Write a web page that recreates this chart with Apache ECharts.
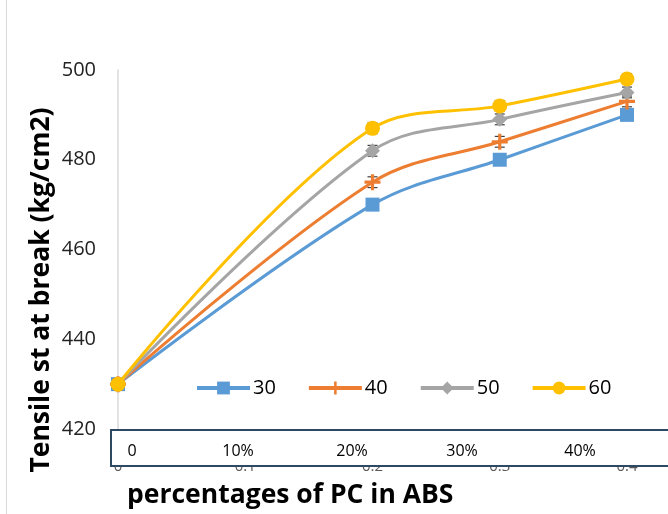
<!DOCTYPE html>
<html><head><meta charset="utf-8">
<script src="https://cdn.jsdelivr.net/npm/echarts@6/dist/echarts.min.js"></script>
<style>html,body{margin:0;padding:0;background:#fff}#c{width:668px;height:514px}</style>
</head><body><div id="c"></div>
<script>
const xValues = [0, 0.2, 0.3, 0.4];
const seriesNames = ['30', '40', '50', '60'];
const s30 = [430, 470, 480, 490];
const s40 = [430, 475, 484, 493];
const s50 = [430, 482, 489, 495];
const s60 = [430, 487, 492, 498];
const errors = [1.2, 1.2, 1.2, 1.2];
const boxLabels = ['0', '10%', '20%', '30%', '40%'];
const yTitle = 'Tensile st at break (kg/cm2)';
const xTitle = 'percentages of PC in ABS';

const colors = ['#5b9bd5', '#ed7d31', '#a5a5a5', '#ffc000'];
const symbols = ['rect', 'path://M4,0 L6,0 L6,4 L10,4 L10,6 L6,6 L6,10 L4,10 L4,6 L0,6 L0,4 L4,4 Z', 'diamond', 'circle'];
const symSizes = [14, 16, 15, 15];
const allData = [s30, s40, s50, s60];
const font = '"Open Sans", sans-serif';

const chart = echarts.init(document.getElementById('c'));
const series = [];
allData.forEach((d, i) => {
  series.push({
    name: seriesNames[i], type: 'line', smooth: 0.35,
    data: d.map((v, j) => [xValues[j], v]),
    symbol: symbols[i], symbolSize: symSizes[i], z: 3 + i,
    lineStyle: { color: colors[i], width: 3 },
    itemStyle: { color: colors[i] }
  });
  series.push({
    type: 'custom', z: 2 + i,
    data: d.map((v, j) => [xValues[j], v, errors[j]]),
    renderItem: function (params, api) {
      const x = api.value(0), v = api.value(1), e = api.value(2);
      const top = api.coord([x, v + e]);
      const bot = api.coord([x, v - e]);
      const hw = 5;
      const st = { stroke: '#404040', lineWidth: 1.2 };
      return { type: 'group', children: [
        { type: 'line', shape: { x1: top[0], y1: top[1], x2: bot[0], y2: bot[1] }, style: st },
        { type: 'line', shape: { x1: top[0]-hw, y1: top[1], x2: top[0]+hw, y2: top[1] }, style: st },
        { type: 'line', shape: { x1: bot[0]-hw, y1: bot[1], x2: bot[0]+hw, y2: bot[1] }, style: st }
      ]};
    }
  });
});

const boxX = [132, 238, 352, 462, 580];
const graphics = [
  { type: 'line', shape: { x1: 6.5, y1: 0, x2: 6.5, y2: 514 }, style: { stroke: '#d9d9d9', lineWidth: 1 }, z: 100 },
  { type: 'rect', shape: { x: 111, y: 430, width: 600, height: 36 }, style: { fill: '#fff', stroke: '#2e4a62', lineWidth: 2 }, z: 100 },
  { type: 'text', x: 41, y: 290, rotation: Math.PI / 2, style: { text: yTitle, font: 'bold 26.5px ' + font, fill: '#000', align: 'center', verticalAlign: 'middle' }, z: 100 },
  { type: 'text', x: 127, y: 495, style: { text: xTitle, font: 'bold 26.5px ' + font, fill: '#000', align: 'left', verticalAlign: 'middle' }, z: 100 }
];
boxLabels.forEach((t, i) => graphics.push({ type: 'text', x: boxX[i], y: 451, style: { text: t, font: '16px ' + font, fill: '#000', align: 'center', verticalAlign: 'middle' }, z: 101 }));

chart.setOption({
  backgroundColor: '#fff',
  animation: false,
  grid: { left: 118, right: 41, top: 70, bottom: 85 },
  xAxis: { type: 'value', min: 0, max: 0.4, interval: 0.1,
    axisLine: { show: false }, axisTick: { show: false }, splitLine: { show: false },
    axisLabel: { margin: 30, fontSize: 15, fontFamily: font, color: '#595959' } },
  yAxis: { type: 'value', min: 420, max: 500, interval: 20,
    axisLine: { show: true, lineStyle: { color: '#d9d9d9', width: 1.5 } },
    axisTick: { show: false }, splitLine: { show: false },
    axisLabel: { margin: 22, fontSize: 20, fontFamily: font, color: '#222' } },
  legend: { data: seriesNames, left: 190, top: 373, itemGap: 31, itemWidth: 53, itemHeight: 16,
    lineStyle: { width: 4 },
    textStyle: { fontSize: 20, fontFamily: font, color: '#000', padding: [0, 0, 0, -2] } },
  series: series,
  graphic: graphics
});
</script></body></html>
